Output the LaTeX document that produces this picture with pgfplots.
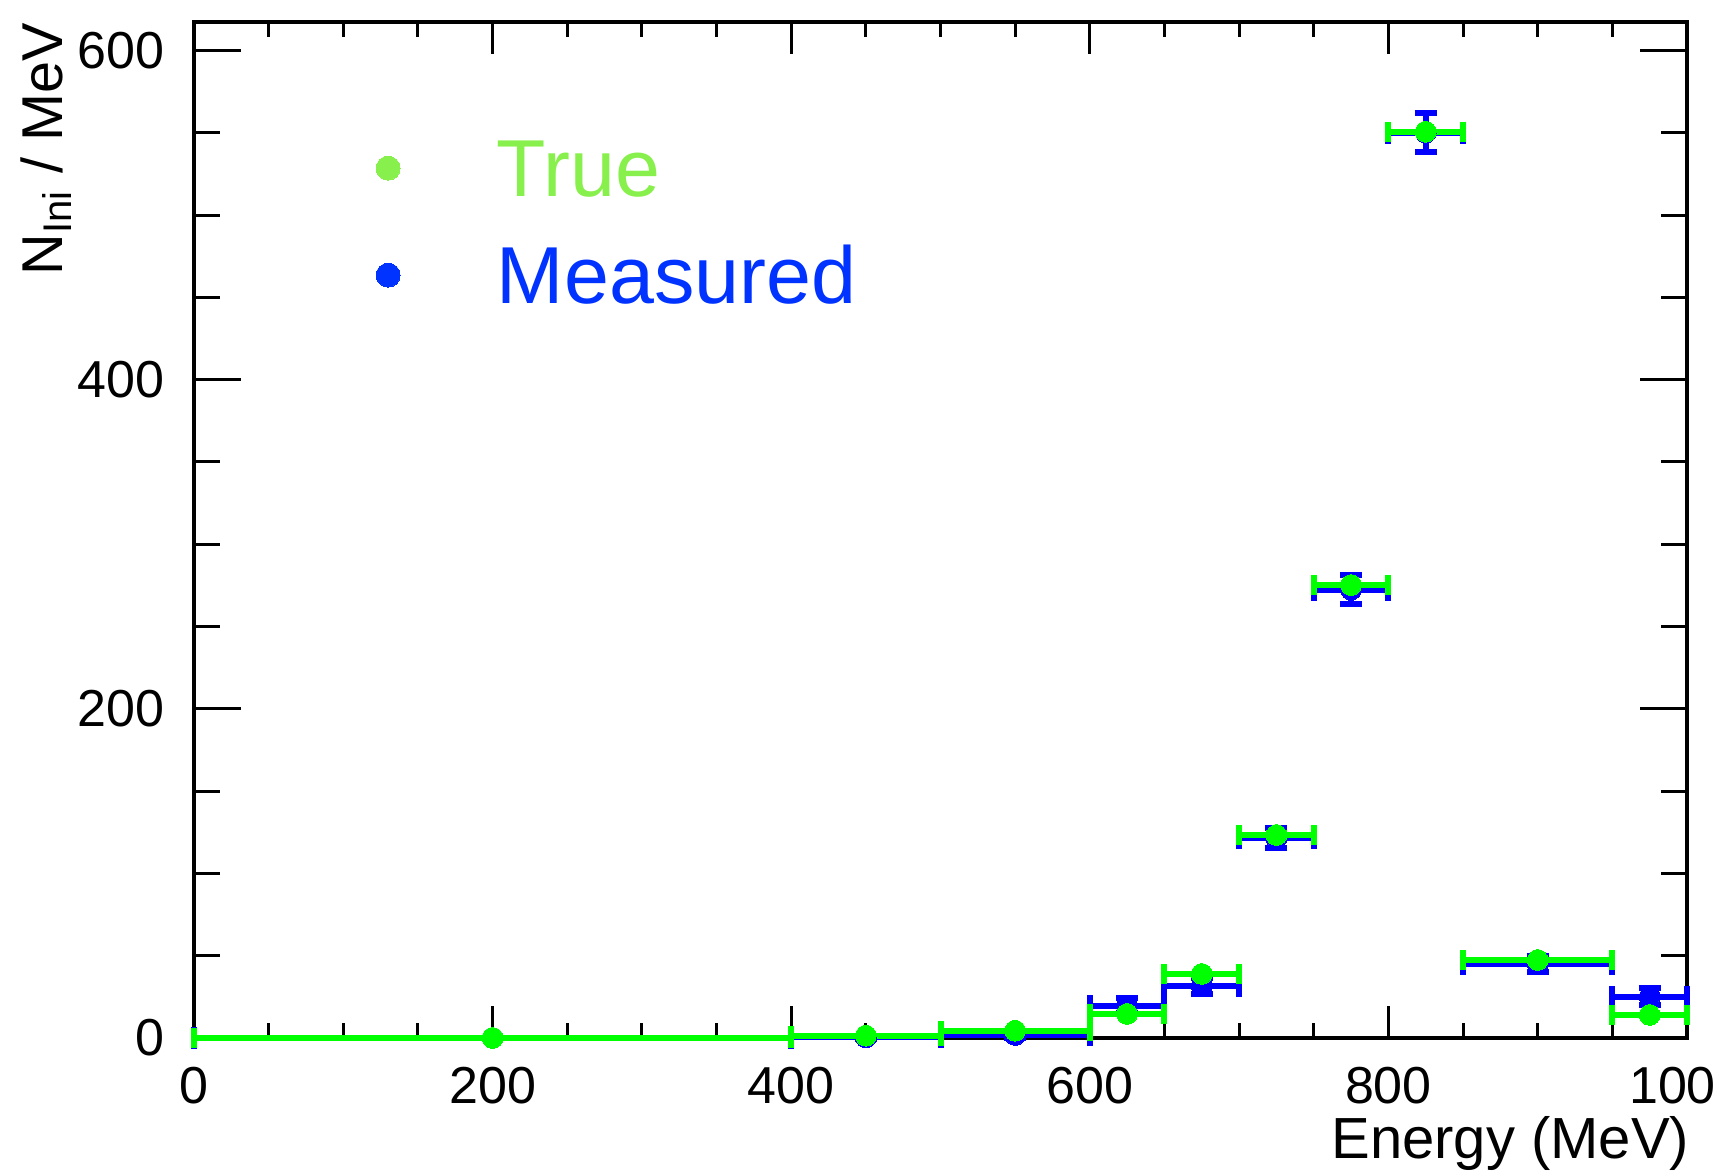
\documentclass[border=0pt]{standalone}
\usepackage{pgfplots}
\pgfplotsset{compat=1.18}
\usepackage{pgfplotstable}
\usepackage{fontspec}
\setmainfont{Liberation Sans}

\definecolor{truegreen}{RGB}{0,255,0}
\definecolor{measblue}{RGB}{0,0,255}
\definecolor{legtrue}{RGB}{136,240,76}
\definecolor{legmeas}{RGB}{0,51,255}

% bin centre, half bin width, value per MeV, error
\pgfplotstableread{
x    ex   y      ey
200  200  0.0    0.0
450  50   1.4    0.0
550  50   4.4    0.0
625  25   14.6   0.0
675  25   38.9   0.0
725  25   123.3  0.0
775  25   275.2  0.0
825  25   550.6  0.0
900  50   47.4   0.0
975  25   14.0   0.0
}\truetable

\pgfplotstableread{
x    ex   y      ey
200  200  0.0    0.0
450  50   0.4    1.0
550  50   1.8    2.0
625  25   19.6   4.5
675  25   31.6   5.0
725  25   121.3  6.0
775  25   272.4  8.6
825  25   550.1  11.7
900  50   45.0   5.0
975  25   25.1   5.0
}\meastable

\begin{document}
\begin{tikzpicture}
\begin{axis}[
  scale only axis,
  width=373.25pt, height=254pt,
  xmin=0, xmax=1000, ymin=0, ymax=617.3,
  clip=false,
  axis line style={line width=1pt},
  xtick={0,200,400,600,800,1000},
  ytick={0,200,400,600},
  minor x tick num=3, minor y tick num=3,
  tick align=inside,
  tick style={line width=0.75pt, black},
  xtick style={/pgfplots/major tick length=8pt, /pgfplots/minor tick length=3.75pt},
  ytick style={/pgfplots/major tick length=11.75pt, /pgfplots/minor tick length=6.5pt},
  /pgf/number format/assume math mode=true,
  /pgf/number format/1000 sep={},
  tick label style={font=\fontsize{13}{15}\selectfont, inner sep=0pt},
  xticklabel shift=7pt,
  yticklabel shift=7.25pt,
  xlabel={Energy (MeV)},
  ylabel={N$_{\mathrm{\fontsize{11}{13}\selectfont Ini}}$ / MeV},
  every axis x label/.style={at={(axis description cs:1.002,-0.1191)}, anchor=base east,
    font=\fontsize{14.5}{17}\selectfont, inner sep=0pt},
  every axis y label/.style={at={(axis description cs:-0.0884,1)}, rotate=90, anchor=base east,
    font=\fontsize{14.4}{17}\selectfont, inner sep=0pt},
  legend style={
    draw=none, fill=none, inner sep=0pt, outer sep=0pt,
    at={(axis description cs:0.122,0.8829)}, anchor=north west,
    font=\fontsize{20.2}{24}\selectfont,
    row sep=12.75pt,
    column sep=0pt,
    /tikz/every odd column/.append style={column sep=24.2pt},
    cells={anchor=base west},
    nodes={inner sep=0pt, text height=14pt, text depth=0pt},
  },
  legend image code/.code={\draw[#1] plot coordinates {(0pt,7.2pt)};},
  error bars/error bar style={line width=1.5pt},
]
\coordinate (ll) at (rel axis cs:0,0);
\coordinate (ur) at (rel axis cs:1,1);

% measured spectrum underneath
\addplot[forget plot, measblue, only marks, mark=*, mark size=2.6pt,
  mark options={line width=0pt},
  error bars/.cd, x dir=both, x explicit, y dir=both, y explicit,
  error mark options={rotate=90, mark size=2.75pt, line width=1.5pt, measblue}]
  table[x=x, y=y, x error=ex, y error=ey] {\meastable};

% true spectrum on top
\addplot[forget plot, truegreen, only marks, mark=*, mark size=2.6pt,
  mark options={line width=0pt},
  error bars/.cd, x dir=both, x explicit, y dir=none,
  error mark options={rotate=90, mark size=2.5pt, line width=1.5pt, truegreen}]
  table[x=x, y=y, x error=ex] {\truetable};

\addlegendimage{only marks, mark=*, mark size=3pt, legtrue, mark options={line width=0pt}}
\addlegendentry{\textcolor{legtrue}{True}}
\addlegendimage{only marks, mark=*, mark size=3pt, legmeas, mark options={line width=0pt}}
\addlegendentry{\textcolor{legmeas}{Measured}}
\end{axis}
\pgfresetboundingbox
\useasboundingbox ([xshift=-48.5pt,yshift=-34pt]ll) rectangle ([xshift=7pt,yshift=5.5pt]ur);
\end{tikzpicture}
\end{document}
